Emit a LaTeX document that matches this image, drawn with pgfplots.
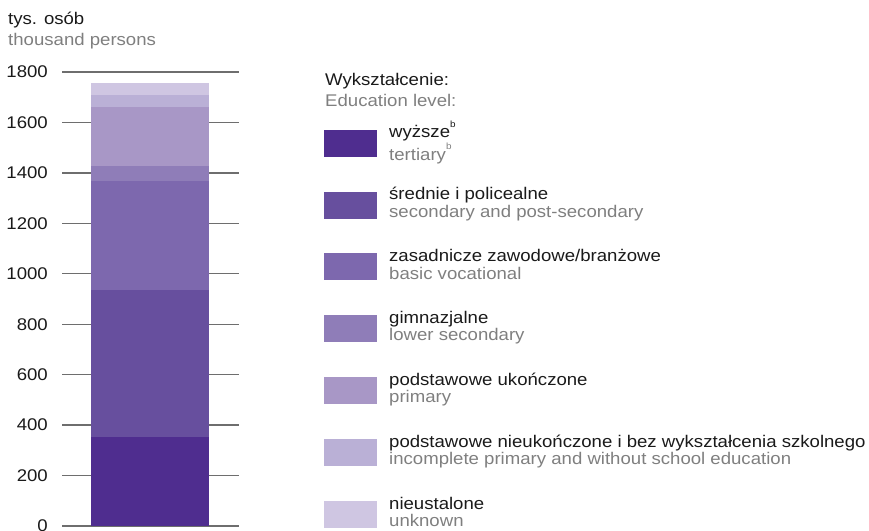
\documentclass[border=0pt]{standalone}
\usepackage{pgfplots}
\pgfplotsset{compat=1.18}
\usepackage{fontspec}
\setmainfont{Liberation Sans}[FakeStretch=1.1]
\definecolor{c1}{HTML}{4F2D8F}
\definecolor{c2}{HTML}{674F9E}
\definecolor{c3}{HTML}{7D68AE}
\definecolor{c4}{HTML}{8F7DB8}
\definecolor{c5}{HTML}{A897C6}
\definecolor{c6}{HTML}{BAB0D6}
\definecolor{c7}{HTML}{CFC6E2}
\definecolor{txt}{HTML}{1A1A1A}
\definecolor{gtxt}{HTML}{7F7F7F}
\definecolor{gridc}{HTML}{6E6E6E}
\newcommand{\LE}[2]{\begin{tabular}{@{}l@{}}\color{txt}#1\\\color{gtxt}#2\end{tabular}}
\newcommand{\supb}{\raisebox{10.5bp}{\fontsize{9bp}{9bp}\selectfont b}}
\begin{document}
\fontsize{16.9bp}{17.5bp}\selectfont
\begin{tikzpicture}
\begin{axis}[
  name=ax,
  scale only axis, width=177bp, height=454bp,
  ymin=0, ymax=1800, xmin=-0.75, xmax=0.75,
  axis line style={draw=none},
  xtick=\empty,
  ytick={0,200,...,1800},
  ymajorgrids,
  grid style={gridc, line width=1.3bp},
  major tick length=0pt,
  yticklabel style={anchor=east, inner sep=0pt, xshift=-14bp, text=txt, font=\fontsize{16.9bp}{17.5bp}\selectfont},
  /pgf/number format/assume math mode=true,
  /pgf/number format/1000 sep={},
  ybar stacked, bar width=118bp,
  legend cell align=left,
  legend image code/.code={\fill[#1] (0bp,-13.5bp) rectangle (53bp,13.5bp); \path[draw=none,fill=none] (0bp,-31bp) -- (0bp,13.5bp);},
  legend style={at={(axis description cs:1.4802,0.8926)}, anchor=north west, draw=none, fill=none,
    inner sep=0pt, row sep=13.3bp, column sep=12bp,
    nodes={inner sep=0pt, text depth=}, font=\fontsize{16.9bp}{17.5bp}\selectfont},
]
\addplot[fill=c1, draw=none] coordinates {(0,353)};
\addlegendentry{\LE{wyższe\supb}{tertiary\supb}}
\addplot[fill=c2, draw=none] coordinates {(0,583)};
\addlegendentry{\LE{średnie i policealne}{secondary and post-secondary}}
\addplot[fill=c3, draw=none] coordinates {(0,433)};
\addlegendentry{\LE{zasadnicze zawodowe/branżowe}{basic vocational}}
\addplot[fill=c4, draw=none] coordinates {(0,58)};
\addlegendentry{\LE{gimnazjalne}{lower secondary}}
\addplot[fill=c5, draw=none] coordinates {(0,234)};
\addlegendentry{\LE{podstawowe ukończone}{primary}}
\addplot[fill=c6, draw=none] coordinates {(0,48)};
\addlegendentry{\LE{podstawowe nieukończone i bez wykształcenia szkolnego}{incomplete primary and without school education}}
\addplot[fill=c7, draw=none] coordinates {(0,48)};
\addlegendentry{\LE{nieustalone}{unknown}}
\draw[gridc, line width=1.3bp] (axis cs:-0.75,0) -- (axis cs:0.75,0);
\end{axis}
\coordinate (O) at ([shift={(-62bp,-5bp)}]ax.south west);
\pgfresetboundingbox
\path[use as bounding box] (O) rectangle ([shift={(869bp,531bp)}]O);
\node[anchor=base west, inner sep=0pt, text=txt] at ([shift={(8bp,506bp)}]O) {tys. osób};
\node[anchor=base west, inner sep=0pt, text=gtxt] at ([shift={(8bp,485.5bp)}]O) {thousand persons};
\node[anchor=base west, inner sep=0pt, text=txt] at ([shift={(325bp,445bp)}]O) {Wykształcenie:};
\node[anchor=base west, inner sep=0pt, text=gtxt] at ([shift={(325bp,424.5bp)}]O) {Education level:};
\end{tikzpicture}
\end{document}
